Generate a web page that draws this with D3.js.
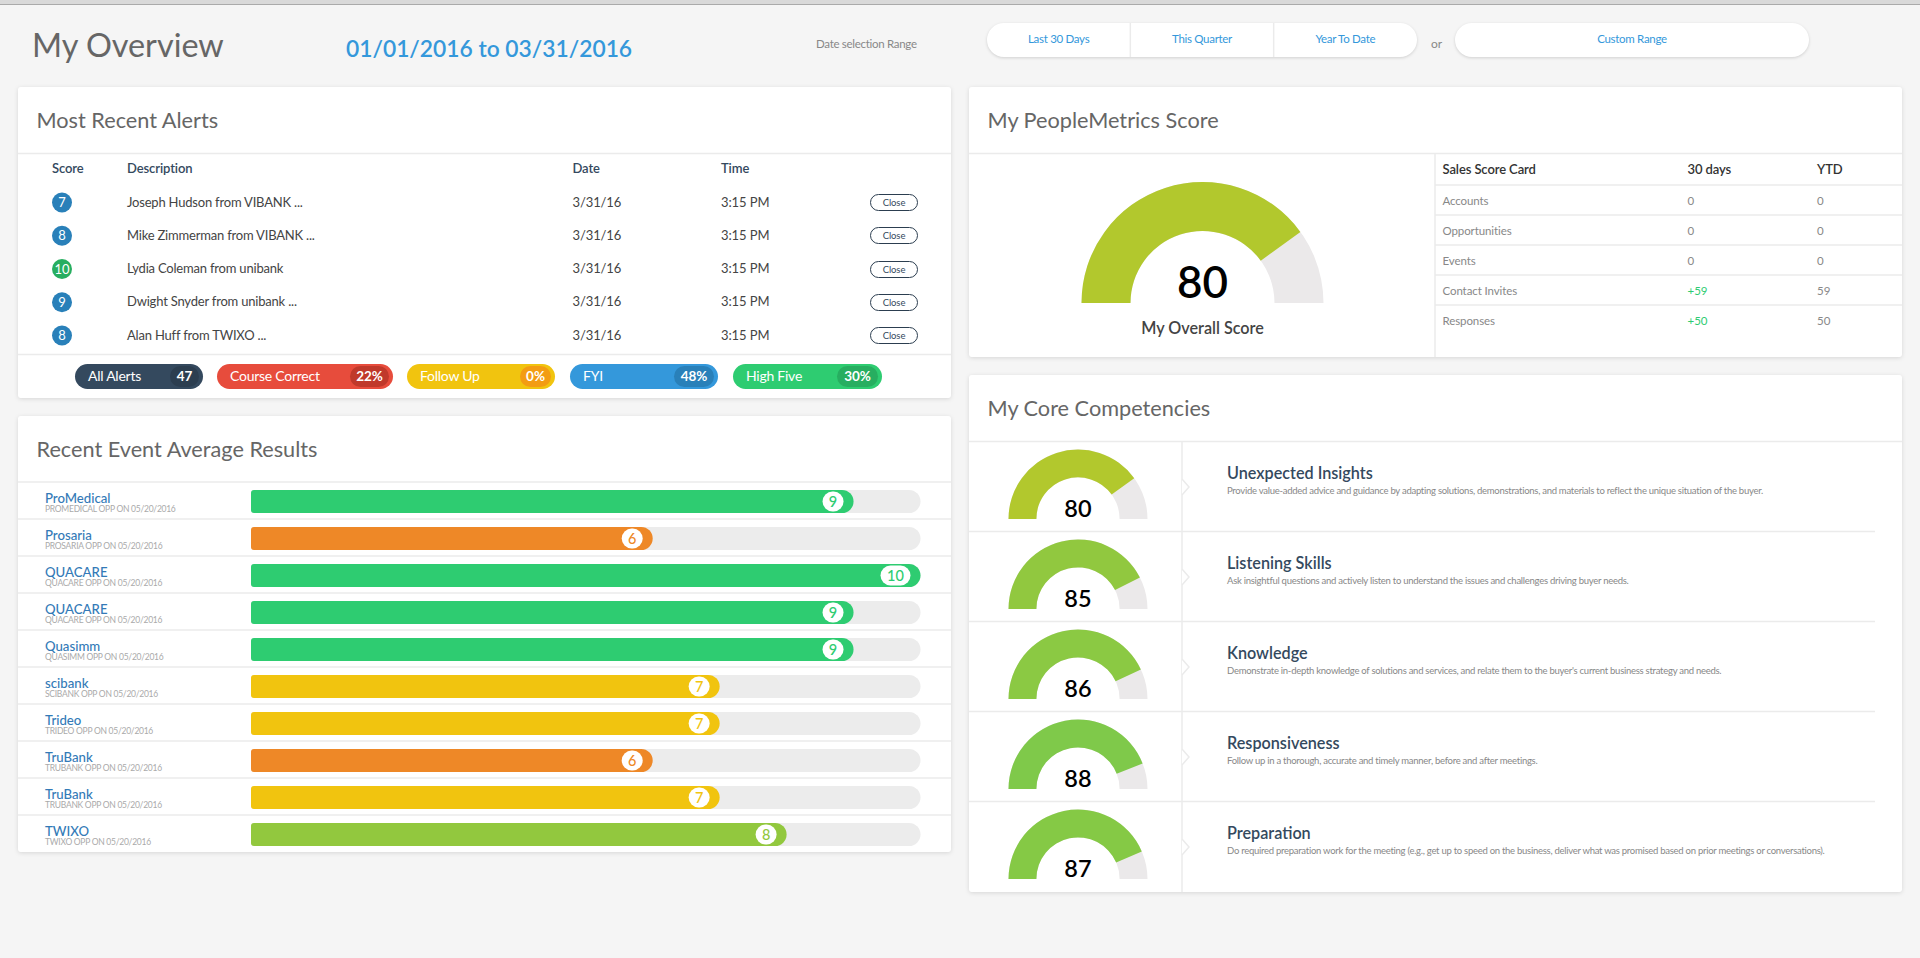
<!DOCTYPE html>
<html>
<head>
<meta charset="utf-8">
<script src="https://cdnjs.cloudflare.com/ajax/libs/d3/7.8.5/d3.min.js"></script>
<style>
    html, body { margin: 0; padding: 0; background: #f5f5f5; overflow: hidden; }
    svg { display: block; font-family: Lato, sans-serif; }
    .card { fill: #fff; filter: drop-shadow(0 1px 2px rgba(0, 0, 0, 0.12)); }
    .rule { stroke: #ebebeb; stroke-width: 1.5; fill: none; }
</style>
</head>
<body>
<svg id="chart" width="1920" height="958"></svg>
<script>
// Date range buttons
const rangeButtons = ["Last 30 Days", "This Quarter", "Year To Date"];

// Most recent alerts
const alertScores = [7, 8, 10, 9, 8];
const alertNames = [
    "Joseph Hudson from VIBANK ...",
    "Mike Zimmerman from VIBANK ...",
    "Lydia Coleman from unibank",
    "Dwight Snyder from unibank ...",
    "Alan Huff from TWIXO ..."
];
const alertDate = "3/31/16";
const alertTime = "3:15 PM";

// Alert totals
const pillNames = ["All Alerts", "Course Correct", "Follow Up", "FYI", "High Five"];
const pillValues = ["47", "22%", "0%", "48%", "30%"];

// Recent events
const eventNames = ["ProMedical", "Prosaria", "QUACARE", "QUACARE", "Quasimm", "scibank", "Trideo", "TruBank", "TruBank", "TWIXO"];
const eventSubs = ["PROMEDICAL", "PROSARIA", "QUACARE", "QUACARE", "QUASIMM", "SCIBANK", "TRIDEO", "TRUBANK", "TRUBANK", "TWIXO"];
const eventScores = [9, 6, 10, 9, 9, 7, 7, 6, 7, 8];
const eventDate = "05/20/2016";

// Score card
const overallScore = 80;
const scoreRows = ["Accounts", "Opportunities", "Events", "Contact Invites", "Responses"];
const score30Days = ["0", "0", "0", "+59", "+50"];
const scoreYtd = ["0", "0", "0", "59", "50"];

// Core competencies
const coreNames = ["Unexpected Insights", "Listening Skills", "Knowledge", "Responsiveness", "Preparation"];
const coreScores = [80, 85, 86, 88, 87];
const coreText = [
    "Provide value-added advice and guidance by adapting solutions, demonstrations, and materials to reflect the unique situation of the buyer.",
    "Ask insightful questions and actively listen to understand the issues and challenges driving buyer needs.",
    "Demonstrate in-depth knowledge of solutions and services, and relate them to the buyer's current business strategy and needs.",
    "Follow up in a thorough, accurate and timely manner, before and after meetings.",
    "Do required preparation work for the meeting (e.g., get up to speed on the business, deliver what was promised based on prior meetings or conversations)."
];

const svg = d3.select("#chart");

const barColor = d3.scaleOrdinal([6, 7, 8, 9, 10], ["#ee8827", "#f1c40f", "#92c83e", "#2ecc71", "#2ecc71"]);
const gaugeColor = d3.scaleOrdinal([80, 85, 86, 87, 88], ["#b2c82d", "#91c83f", "#8bc943", "#85c945", "#7fc94a"]);
const alertColor = d3.scaleThreshold([10], ["#2980b9", "#27ae60"]);

// Helper for all the plain text on the page
function text(parent, x, y, str, size, fill, weight = 400, anchor = "start", spacing = 0) {
    return parent.append("text")
        .attr("x", x)
        .attr("y", y)
        .attr("font-size", size)
        .attr("font-weight", weight)
        .attr("fill", fill)
        .attr("text-anchor", anchor)
        .attr("letter-spacing", spacing)
        .text(str);
}

function rule(x1, y1, x2, y2) {
    svg.append("line").attr("class", "rule")
        .attr("x1", x1).attr("y1", y1).attr("x2", x2).attr("y2", y2);
}

function card(x, y, w, h, title, headerY) {
    svg.append("rect").attr("class", "card")
        .attr("x", x).attr("y", y).attr("width", w).attr("height", h).attr("rx", 3);
    rule(x, headerY, x + w, headerY);
    text(svg, x + 18.5, y + 41, title, 21.7, "#666");
}

// Bar with small left corners and a fully rounded right end
function barPath(x0, x1, y, h) {
    const r = h / 2, s = 3, p = d3.path();
    p.moveTo(x0 + s, y);
    p.lineTo(x1 - r, y);
    p.arc(x1 - r, y + r, r, -Math.PI / 2, Math.PI / 2);
    p.lineTo(x0 + s, y + h);
    p.arcTo(x0, y + h, x0, y + h - s, s);
    p.lineTo(x0, y + s);
    p.arcTo(x0, y, x0 + s, y, s);
    p.closePath();
    return p.toString();
}

// Half donut gauge, 0 to 100 maps onto 180 degrees
const gaugeAngle = d3.scaleLinear([0, 100], [-Math.PI / 2, Math.PI / 2]);

function gauge(parent, cx, cy, outer, inner, value) {
    const g = parent.append("g").attr("transform", `translate(${cx},${cy})`);
    const arc = d3.arc().innerRadius(inner).outerRadius(outer);
    g.append("path").attr("fill", "#ebe9ea")
        .attr("d", arc({startAngle: gaugeAngle(0), endAngle: gaugeAngle(100)}));
    g.append("path").attr("fill", gaugeColor(value))
        .attr("d", arc({startAngle: gaugeAngle(0), endAngle: gaugeAngle(value)}));
}

// Top strip
svg.append("rect").attr("width", 1920).attr("height", 4).attr("fill", "#d9d9d9");
svg.append("rect").attr("y", 4).attr("width", 1920).attr("height", 1).attr("fill", "#aaa");

// Page header
text(svg, 32, 57, "My Overview", 32.4, "#666");
text(svg, 346, 56.5, "01/01/2016 to 03/31/2016", 22.8, "#3498db", 600);
text(svg, 816, 47.5, "Date selection Range", 11.5, "#888", 400, "start", -0.3);
text(svg, 1431, 47.5, "or", 12, "#888");

const buttonShadow = "drop-shadow(0 1px 1.5px rgba(0, 0, 0, 0.15))";
svg.append("rect").attr("x", 987).attr("y", 23).attr("width", 430).attr("height", 34).attr("rx", 17)
    .attr("fill", "#fff").style("filter", buttonShadow);
svg.append("rect").attr("x", 1455).attr("y", 23).attr("width", 354).attr("height", 34).attr("rx", 17)
    .attr("fill", "#fff").style("filter", buttonShadow);
const buttonX = d3.scaleBand().domain(rangeButtons).range([987, 1417]);
rangeButtons.forEach((d, i) => {
    text(svg, buttonX(d) + buttonX.bandwidth() / 2, 43, d, 11.5, "#3498db", 400, "middle", -0.3);
    if (i > 0) rule(buttonX(d), 23, buttonX(d), 57);
});
text(svg, 1632, 43, "Custom Range", 11.5, "#3498db", 400, "middle", -0.3);

// Most Recent Alerts
card(18, 87, 933, 311, "Most Recent Alerts", 153.5);
const alertCols = [52, 127, 572.5, 721];
["Score", "Description", "Date", "Time"].forEach((d, i) => text(svg, alertCols[i], 172.5, d, 13, "#34495e", 600, "start", -0.1));

const alertY = d3.scalePoint().domain(d3.range(alertScores.length)).range([202.5, 335.5]);
alertScores.forEach((score, i) => {
    const y = alertY(i);
    svg.append("circle").attr("cx", 62).attr("cy", y).attr("r", 10).attr("fill", alertColor(score));
    text(svg, 62, y + 4.5, score, 13, "#fff", 400, "middle");
    text(svg, alertCols[1], y + 4, alertNames[i], 13, "#444", 400, "start", -0.2);
    text(svg, alertCols[2], y + 4, alertDate, 13, "#444", 400, "start", -0.1);
    text(svg, alertCols[3], y + 4, alertTime, 13, "#444", 400, "start", -0.1);
    svg.append("rect").attr("x", 870.5).attr("y", Math.round(y - 8.5) + 0.5).attr("width", 47).attr("height", 16).attr("rx", 8)
        .attr("fill", "#fff").attr("stroke", "#2c3e50");
    text(svg, 894, y + 3.5, "Close", 9.5, "#34495e", 400, "middle", -0.1);
});
rule(18, 354.5, 951, 354.5);

const pillX = [75, 217, 407, 570, 733];
const pillW = [128, 176, 148, 148, 149];
const badgeW = [29, 39, 31, 40, 41];
const pillFill = ["#34495e", "#e74c3c", "#f1c40f", "#3498db", "#2ecc71"];
const badgeFill = ["#2c3e50", "#c0392b", "#f39c12", "#2980b9", "#27ae60"];
pillNames.forEach((d, i) => {
    svg.append("rect").attr("x", pillX[i]).attr("y", 364).attr("width", pillW[i]).attr("height", 25).attr("rx", 12.5)
        .attr("fill", pillFill[i]);
    const right = pillX[i] + pillW[i] - 4;
    svg.append("rect").attr("x", right - badgeW[i]).attr("y", 366).attr("width", badgeW[i]).attr("height", 21).attr("rx", 10.5)
        .attr("fill", badgeFill[i]);
    text(svg, pillX[i] + 13, 381, d, 14, "#fff", 400, "start", -0.25);
    text(svg, right - badgeW[i] / 2, 381, pillValues[i], 13.5, "#fff", 700, "middle");
});

// Recent Event Average Results
card(18, 416, 933, 436, "Recent Event Average Results", 482);
const eventY = d3.scaleBand().domain(d3.range(eventScores.length)).range([482, 852]);
const eventX = d3.scaleLinear([0, 10], [251, 920.5]);
eventScores.forEach((score, i) => {
    const top = eventY(i), barY = top + 8, barH = 23;
    if (i > 0) rule(18, top, 951, top);
    text(svg, 45, top + 20.5, eventNames[i], 13.2, "#337ab7", 500);
    text(svg, 45, top + 29.5, `${eventSubs[i]} OPP ON ${eventDate}`, 8.5, "#aaa", 400, "start", -0.27);
    svg.append("path").attr("fill", "#ececec").attr("d", barPath(eventX(0), eventX(10), barY, barH));
    svg.append("path").attr("fill", barColor(score)).attr("d", barPath(eventX(0), eventX(score), barY, barH));
    const w = score === 10 ? 30 : 21;
    svg.append("rect").attr("x", eventX(score) - 10 - w).attr("y", barY + 1.5)
        .attr("width", w).attr("height", 20).attr("rx", 10).attr("fill", "#fff");
    text(svg, eventX(score) - 10 - w / 2, barY + 16.5, score, 14.5, barColor(score), 500, "middle");
});

// My PeopleMetrics Score
card(969, 87, 933, 270, "My PeopleMetrics Score", 153.5);
rule(1435, 153.5, 1435, 357);
gauge(svg, 1202.5, 303, 121, 72, overallScore);
text(svg, 1202.5, 298, overallScore, 44, "#000", 600, "middle");
text(svg, 1202.5, 334, "My Overall Score", 16.2, "#444", 600, "middle");

const scoreColX = [1442.5, 1687.5, 1817];
["Sales Score Card", "30 days", "YTD"].forEach((d, i) => text(svg, scoreColX[i], 173.5, d, 13, "#333", 600, "start", -0.1));
const scoreY = d3.scaleBand().domain(d3.range(scoreRows.length)).range([185, 335]);
scoreRows.forEach((d, i) => {
    const top = scoreY(i);
    rule(1435, top, 1902, top);
    const y = top + 20;
    text(svg, scoreColX[0], y, d, 11.5, "#888", 400, "start", -0.1);
    const up = score30Days[i].startsWith("+");
    text(svg, scoreColX[1], y, score30Days[i], 11.5, up ? "#2ecc71" : "#888");
    text(svg, scoreColX[2], y, scoreYtd[i], 11.5, "#888");
});

// My Core Competencies
card(969, 375, 933, 517, "My Core Competencies", 441.5);
rule(1182, 441.5, 1182, 892);
const coreY = d3.scaleBand().domain(d3.range(coreScores.length)).range([441.5, 891.5]);
coreScores.forEach((score, i) => {
    const top = coreY(i), mid = top + 45.5;
    if (i > 0) rule(969, top, 1875, top);
    // Little chevron on the divider
    svg.append("path").attr("class", "rule").style("fill", "#fff")
        .attr("d", d3.line()([[1182, mid - 8], [1189, mid], [1182, mid + 8]]));
    gauge(svg, 1078, top + 77.5, 69.5, 41.6, score);
    text(svg, 1078, top + 75.5, score, 23.5, "#000", 600, "middle");
    text(svg, 1227, top + 37, coreNames[i], 16.2, "#34495e", 600);
    text(svg, 1227, top + 52, coreText[i], 9.5, "#888", 400, "start", -0.27);
});
</script>
</body>
</html>
